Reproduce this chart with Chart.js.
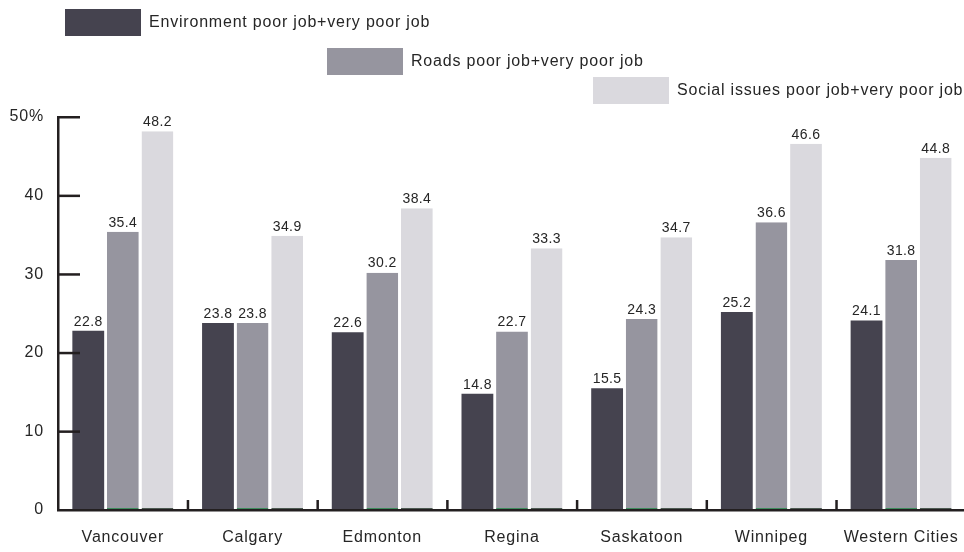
<!DOCTYPE html>
<html>
<head>
<meta charset="utf-8">
<script src="https://cdn.jsdelivr.net/npm/chart.js@4"></script>
<style>
  html, body { margin: 0; padding: 0; background: #fff; overflow: hidden; }
  #wrap { width: 971px; height: 552px; }
</style>
</head>
<body>
<div id="wrap"><canvas id="myChart" width="971" height="552"></canvas></div>
<script>
// city results, share answering poor job + very poor job
var cities = ['Vancouver', 'Calgary', 'Edmonton', 'Regina', 'Saskatoon', 'Winnipeg', 'Western Cities'];
var environment = [22.8, 23.8, 22.6, 14.8, 15.5, 25.2, 24.1];
var roads = [35.4, 23.8, 30.2, 22.7, 24.3, 36.6, 31.8];
var socialIssues = [48.2, 34.9, 38.4, 33.3, 34.7, 46.6, 44.8];
var seriesNames = ['Environment poor job+very poor job', 'Roads poor job+very poor job', 'Social issues poor job+very poor job'];
var yTicks = [0, 10, 20, 30, 40, 50];

var FONT = '"Liberation Sans", Arial, sans-serif';
var TEXT = '#262626';
var AXIS = '#231f20';

// legend boxes sit in a staircase above the plot
var legendPos = [
  { x: 65, y: 9 },
  { x: 327, y: 48 },
  { x: 593, y: 77 }
];

// slightly wider lettering everywhere
var spacing = {
  id: 'spacing',
  beforeDraw: function(chart) {
    chart.ctx.letterSpacing = '0.8px';
  }
};

var stairLegend = {
  id: 'stairLegend',
  afterDraw: function(chart) {
    var ctx = chart.ctx;
    ctx.save();
    ctx.font = '16px ' + FONT;
    ctx.textBaseline = 'middle';
    chart.data.datasets.forEach(function(ds, i) {
      var p = legendPos[i];
      ctx.fillStyle = ds.backgroundColor;
      ctx.fillRect(p.x, p.y, 76, 27);
      ctx.fillStyle = TEXT;
      ctx.fillText(ds.label, p.x + 84, p.y + 14);
    });
    ctx.restore();
  }
};

// axis lines with inward ticks
var axisMarks = {
  id: 'axisMarks',
  afterDatasetsDraw: function(chart) {
    var ctx = chart.ctx;
    var x = chart.scales.x, y = chart.scales.y;
    var area = chart.chartArea;
    ctx.save();
    ctx.fillStyle = AXIS;
    var base = y.getPixelForValue(0);
    // vertical axis
    ctx.fillRect(area.left - 1, y.getPixelForValue(50) - 1, 2.5, base - y.getPixelForValue(50) + 2);
    yTicks.forEach(function(v) {
      if (v === 0) return;
      var py = y.getPixelForValue(v);
      ctx.fillRect(area.left, py - 1, 22, 2.5);
    });
    // baseline
    ctx.fillRect(area.left - 1, base - 1, area.right - area.left + 2, 2.5);
    // small marks between city groups
    for (var i = 0; i < cities.length - 1; i++) {
      var px = (x.getPixelForValue(i) + x.getPixelForValue(i + 1)) / 2;
      ctx.fillRect(px - 1, base - 10, 2.5, 10);
    }
    ctx.restore();
  }
};

// value labels above each bar
var barValues = {
  id: 'barValues',
  afterDatasetsDraw: function(chart) {
    var ctx = chart.ctx;
    ctx.save();
    ctx.font = '14px ' + FONT;
    ctx.letterSpacing = '0.4px';
    ctx.fillStyle = TEXT;
    ctx.textAlign = 'center';
    ctx.textBaseline = 'bottom';
    chart.data.datasets.forEach(function(ds, i) {
      chart.getDatasetMeta(i).data.forEach(function(bar, j) {
        ctx.fillText(ds.data[j].toFixed(1), bar.x, bar.y - 2);
      });
    });
    ctx.restore();
  }
};

var ctx = document.getElementById('myChart').getContext('2d');
var myChart = new Chart(ctx, {
  type: 'bar',
  data: {
    labels: cities,
    datasets: [{
      label: seriesNames[0],
      data: environment,
      backgroundColor: '#45434f'
    }, {
      label: seriesNames[1],
      data: roads,
      backgroundColor: '#96959f',
      borderColor: '#3d8b5c',
      borderWidth: { top: 0, left: 0, right: 0, bottom: 2 },
      borderSkipped: false
    }, {
      label: seriesNames[2],
      data: socialIssues,
      backgroundColor: '#dad9de',
      borderColor: '#4d5a52',
      borderWidth: { top: 0, left: 0, right: 0, bottom: 2 },
      borderSkipped: false
    }]
  },
  options: {
    responsive: false,
    animation: false,
    layout: { padding: { top: 117, right: 0, bottom: 0, left: 0 } },
    categoryPercentage: 0.8,
    barPercentage: 0.92,
    plugins: {
      legend: { display: false },
      tooltip: { enabled: false }
    },
    scales: {
      x: {
        grid: { display: false, drawTicks: false },
        border: { display: false },
        ticks: {
          color: TEXT,
          font: { family: FONT, size: 16 },
          padding: 18,
          maxRotation: 0,
          autoSkip: false
        },
        afterFit: function(s) { s.height = 42; }
      },
      y: {
        min: 0,
        max: 50,
        afterBuildTicks: function(s) {
          s.ticks = yTicks.map(function(v) { return { value: v }; });
        },
        grid: { display: false, drawTicks: false },
        border: { display: false },
        ticks: {
          color: TEXT,
          font: { family: FONT, size: 16 },
          padding: 14,
          callback: function(v) { return v === 50 ? v + '%' : v; }
        },
        afterFit: function(s) { s.width = 58; }
      }
    }
  },
  plugins: [spacing, stairLegend, axisMarks, barValues]
});
</script>
</body>
</html>
